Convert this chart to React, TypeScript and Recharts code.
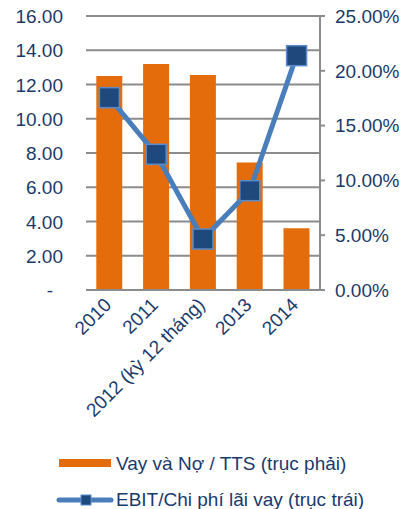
import {
  ComposedChart,
  Bar,
  Line,
  XAxis,
  YAxis,
  CartesianGrid,
  Legend,
} from "recharts";

const years = ["2010", "2011", "2012 (kỳ 12 tháng)", "2013", "2014"];
const debtValues = [12.5, 13.2, 12.55, 7.45, 3.6];
const ebitValues = [0.1755, 0.1238, 0.0465, 0.0906, 0.2138];
const leftTicks = [0, 2, 4, 6, 8, 10, 12, 14, 16];
const rightTicks = [0, 0.05, 0.1, 0.15, 0.2, 0.25];

const chartData = years.map((year, i) => ({
  year,
  debt: debtValues[i],
  ebit: ebitValues[i],
}));

const FONT = "Arial, 'Liberation Sans', sans-serif";
const FS = 19;
const TEXT = "#1B3A6B";
const ORANGE = "#E46C0A";
const BLUE = "#4A7EBB";
const NAVY = "#1F497D";
const GRID = "#8C8C8C";

function LeftTick({ x, y, payload }: any) {
  const v = payload.value;
  return (
    <text
      x={v === 0 ? x - 25 : x - 15}
      y={y}
      dy={7}
      textAnchor="end"
      fill={TEXT}
      fontSize={FS}
      fontFamily={FONT}
    >
      {v === 0 ? "-" : v.toFixed(2)}
    </text>
  );
}

function XTick({ x, y, payload }: any) {
  const ax = x + 3;
  const ay = y + 8;
  return (
    <text
      x={ax}
      y={ay}
      textAnchor="end"
      fill={TEXT}
      fontSize={FS}
      fontFamily={FONT}
      transform={`rotate(-45, ${ax}, ${ay})`}
    >
      {payload.value}
    </text>
  );
}

function SquareDot({ cx, cy }: any) {
  return (
    <rect
      x={cx - 10}
      y={cy - 10}
      width={20}
      height={20}
      fill={NAVY}
      stroke="#5B8BC9"
      strokeWidth={1.5}
    />
  );
}

function LegendContent() {
  return (
    <svg width={411} height={69} style={{ display: "block", overflow: "visible" }}>
      <rect x={59} y={19} width={52} height={8} fill={ORANGE} />
      <text x={116} y={30} fill={TEXT} fontSize={FS} fontFamily={FONT}>
        Vay và Nợ / TTS (trục phải)
      </text>
      <line
        x1={59}
        y1={60}
        x2={111}
        y2={60}
        stroke={BLUE}
        strokeWidth={5}
        strokeLinecap="round"
      />
      <rect x={81} y={55} width={10} height={10} fill={NAVY} stroke="#5B8BC9" />
      <text x={116} y={66} fill={TEXT} fontSize={FS} fontFamily={FONT}>
        EBIT/Chi phí lãi vay (trục trái)
      </text>
    </svg>
  );
}

export default function App() {
  return (
    <div style={{ position: "absolute", left: 0, top: 0, fontFamily: FONT }}>
      <ComposedChart
        width={411}
        height={509}
        data={chartData}
        margin={{ top: 16, right: 0, left: 0, bottom: 0 }}
        barCategoryGap="22%"
      >
        <CartesianGrid
          vertical={false}
          stroke={GRID}
          strokeWidth={2}
          yAxisId="left"
        />
        <XAxis
          dataKey="year"
          height={150}
          interval={0}
          tick={<XTick />}
          tickLine={false}
          axisLine={{ stroke: GRID, strokeWidth: 2 }}
        />
        <YAxis
          yAxisId="left"
          orientation="left"
          width={86}
          domain={[0, 16]}
          ticks={leftTicks}
          tick={<LeftTick />}
          tickLine={false}
          axisLine={false}
          interval={0}
        />
        <YAxis
          yAxisId="right"
          orientation="right"
          width={91}
          domain={[0, 0.25]}
          ticks={rightTicks}
          tickFormatter={(v: number) => `${(v * 100).toFixed(2)}%`}
          tick={{ fill: TEXT, fontSize: FS, fontFamily: FONT }}
          tickLine={{ stroke: GRID, strokeWidth: 2 }}
          tickSize={5}
          tickMargin={10}
          axisLine={{ stroke: GRID, strokeWidth: 2 }}
          interval={0}
        />
        <Bar
          yAxisId="left"
          dataKey="debt"
          fill={ORANGE}
          isAnimationActive={false}
        />
        <Line
          yAxisId="right"
          dataKey="ebit"
          stroke={BLUE}
          strokeWidth={5}
          dot={<SquareDot />}
          activeDot={false}
          isAnimationActive={false}
        />
        <Legend
          verticalAlign="bottom"
          content={<LegendContent />}
          height={69}
          wrapperStyle={{ left: 0, width: 411, height: 69 }}
        />
      </ComposedChart>
    </div>
  );
}
